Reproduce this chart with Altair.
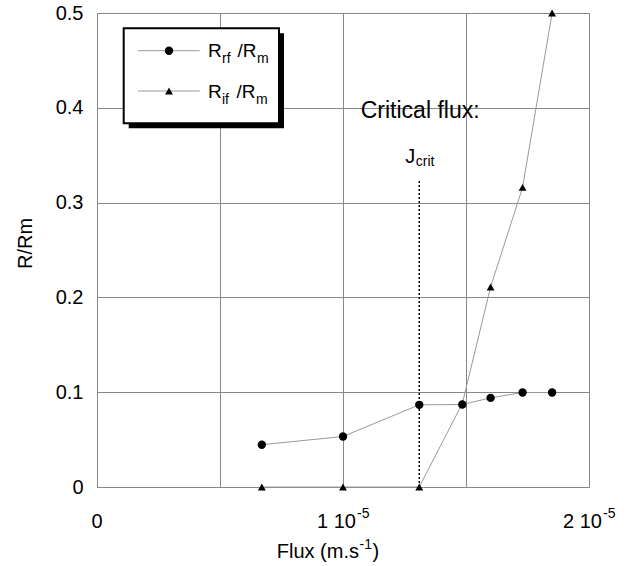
import altair as alt
import pandas as pd

# Measured resistance ratios against permeate flux (m.s-1)
flux = [0.67e-5, 1.00e-5, 1.31e-5, 1.485e-5, 1.60e-5, 1.73e-5, 1.85e-5]
ratio_rf = [0.0446, 0.0533, 0.0867, 0.0870, 0.0940, 0.0997, 0.0997]
ratio_if = [0.0, 0.0, 0.0, 0.088, 0.211, 0.316, 0.5]

# Critical flux marker
j_crit = 1.31e-5
j_crit_top = 0.325

# Axis ticks / labels
x_grid = [0, 0.5e-5, 1.0e-5, 1.5e-5, 2.0e-5]
x_tick_pos = [0, 1e-5, 2e-5]
x_tick_base = ["0", "1 10", "2 10"]
x_tick_exp = ["", "-5", "-5"]
y_ticks = [0, 0.1, 0.2, 0.3, 0.4, 0.5]

W, H = 492, 474
FONT = "Liberation Sans"

series = pd.DataFrame(
    {"flux": flux * 2,
     "ratio": ratio_rf + ratio_if,
     "series": ["Rrf"] * len(flux) + ["Rif"] * len(flux)}
)
ticks = pd.DataFrame({"flux": x_tick_pos, "base": x_tick_base, "sup": x_tick_exp})

x_enc = alt.X(
    "flux:Q",
    scale=alt.Scale(domain=[0, 2e-5], nice=False, zero=False),
    axis=alt.Axis(values=x_grid, labels=False, ticks=False, domain=False,
                  title=None, grid=True, gridColor="#888", gridWidth=1),
)
y_enc = alt.Y(
    "ratio:Q",
    scale=alt.Scale(domain=[0, 0.5], nice=False),
    axis=alt.Axis(values=y_ticks, ticks=False, domain=False, grid=True,
                  gridColor="#888", gridWidth=1,
                  labelExpr="datum.value == 0 ? '0' : format(datum.value, '.1f')",
                  labelPadding=14, labelBaseline="middle",
                  title="R/Rm", titleAngle=270, titleX=-71.5, titleY=230,
                  titleAlign="center", titleBaseline="middle"),
)

lines = alt.Chart(series).mark_line(color="#9a9a9a", strokeWidth=1).encode(
    x=x_enc, y=y_enc, detail="series:N"
)
points = alt.Chart(series).mark_point(filled=True, color="black", opacity=1).encode(
    x="flux:Q", y="ratio:Q",
    shape=alt.Shape("series:N", scale=alt.Scale(domain=["Rrf", "Rif"], range=["circle", "triangle-up"]), legend=None),
    size=alt.Size("series:N", scale=alt.Scale(domain=["Rrf", "Rif"], range=[70, 62]), legend=None),
)

crit_df = pd.DataFrame({"flux": [j_crit], "y0": [0.0], "y1": [j_crit_top],
                        "j": ["J"], "sub": ["crit"]})
crit_rule = alt.Chart(crit_df).mark_rule(color="black", strokeDash=[2, 2], strokeWidth=1.5).encode(
    x="flux:Q", y="y0:Q", y2="y1:Q"
)
crit_j = alt.Chart(crit_df).mark_text(font=FONT, fontSize=20, align="right",
                                      baseline="alphabetic", dx=-4).encode(
    x="flux:Q", y=alt.datum(0.3414), text="j:N"
)
crit_sub = alt.Chart(crit_df).mark_text(font=FONT, fontSize=14, align="left",
                                        baseline="alphabetic", dx=-3.5, dy=3).encode(
    x="flux:Q", y=alt.datum(0.3414), text="sub:N"
)
crit_label = alt.Chart(pd.DataFrame({"flux": [1.072e-5], "y": [0.389], "t": ["Critical flux:"]})).mark_text(
    font=FONT, fontSize=23, align="left", baseline="alphabetic"
).encode(x="flux:Q", y="y:Q", text="t:N")

# x tick labels with superscript exponents
tick_zero = alt.Chart(ticks).transform_filter("datum.sup == ''").mark_text(
    font=FONT, fontSize=20, align="center", baseline="alphabetic"
).encode(x="flux:Q", y=alt.value(H + 41), text="base:N")
tick_base = alt.Chart(ticks).transform_filter("datum.sup != ''").mark_text(
    font=FONT, fontSize=20, align="right", baseline="alphabetic", dx=13
).encode(x="flux:Q", y=alt.value(H + 41), text="base:N")
tick_exp = alt.Chart(ticks).transform_filter("datum.sup != ''").mark_text(
    font=FONT, fontSize=14, align="left", baseline="alphabetic", dx=14
).encode(x="flux:Q", y=alt.value(H + 31), text="sup:N")


def txt(s, x, y, size, align="left"):
    return alt.Chart(pd.DataFrame({"t": [s]})).mark_text(
        font=FONT, fontSize=size, align=align, baseline="alphabetic", color="black"
    ).encode(x=alt.value(x), y=alt.value(y), text="t:N")


# x axis title: Flux (m.s^-1)
title_parts = [
    txt("Flux (m.s", 262, H + 71, 20, "right"),
    txt("-1", 262.5, H + 62, 14),
    txt(")", 275.5, H + 71, 20),
]

# legend box with drop shadow
one = pd.DataFrame({"k": [0]})
shadow = alt.Chart(one).mark_rect(color="black").encode(
    x=alt.value(31.7), x2=alt.value(187), y=alt.value(20.3), y2=alt.value(115.3))
box = alt.Chart(one).mark_rect(fill="white", stroke="black", strokeWidth=2).encode(
    x=alt.value(26.7), x2=alt.value(182), y=alt.value(15.3), y2=alt.value(110.3))

legend_layers = [shadow, box]
for row_y, shape, size, sub, slash_x in [(37.7, "circle", 70, "rf", 140.5),
                                         (78.0, "triangle-up", 62, "if", 139.5)]:
    legend_layers.append(
        alt.Chart(one).mark_rule(color="#9a9a9a", strokeWidth=1).encode(
            x=alt.value(41), x2=alt.value(102.7), y=alt.value(row_y))
    )
    legend_layers.append(
        alt.Chart(one).mark_point(filled=True, color="black", opacity=1, shape=shape, size=size).encode(
            x=alt.value(72), y=alt.value(row_y))
    )
    base_y = row_y + 6.6
    legend_layers += [
        txt("R", 111, base_y, 19),
        txt(sub, 125, base_y + 6, 14),
        txt("/R", slash_x, base_y, 19),
        txt("m", slash_x + 19.5, base_y + 6, 14),
    ]

chart = alt.layer(
    lines, crit_rule, points, crit_j, crit_sub, crit_label,
    tick_zero, tick_base, tick_exp, *title_parts, *legend_layers
).properties(
    width=W, height=H,
    autosize=alt.AutoSizeParams(type="none"),
    padding={"left": 97, "top": 13, "right": 634 - 97 - W, "bottom": 566 - 13 - H},
).configure(
    background="white"
).configure_axis(
    labelFont=FONT, titleFont=FONT, labelFontSize=20, titleFontSize=20,
    labelColor="black", titleColor="black", titleFontWeight="normal"
).configure_view(
    stroke="#888", strokeWidth=1
)

chart.save("out.html", embed_options={"renderer": "svg", "actions": False})
